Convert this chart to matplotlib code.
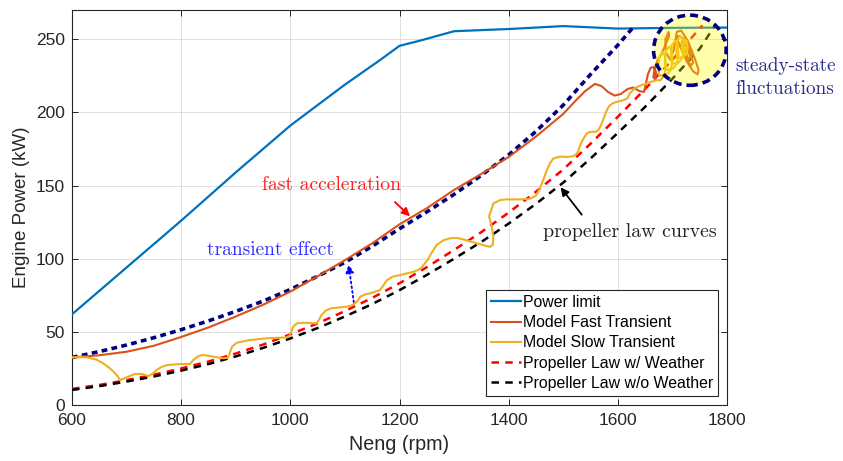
import matplotlib
matplotlib.use("Agg")
import matplotlib.pyplot as plt
from matplotlib.patches import Ellipse

plt.rcParams['font.family'] = ['Liberation Sans', 'DejaVu Sans']

# ---------------- data ----------------
rpm_limit = [600, 700, 800, 900, 1000, 1100, 1164, 1200, 1237, 1300, 1400, 1500, 1600, 1700, 1800]
pow_limit = [62, 94, 126, 159, 191, 219, 235.7, 245.5, 249, 255.5, 257, 259, 257.3, 257.8, 258]

rpm_fast = [600, 650, 700, 750, 800, 850, 900, 950, 1000, 1050, 1100, 1150, 1200, 1250, 1300,
            1350, 1400, 1450, 1500, 1520, 1540, 1558, 1570, 1582, 1594, 1605, 1618, 1628, 1640,
            1648, 1651, 1655, 1660, 1666, 1670, 1669, 1665, 1667, 1672, 1680, 1688, 1694, 1693,
            1687, 1688, 1696, 1702, 1706, 1708, 1716, 1728, 1740, 1748, 1746, 1738, 1726, 1713,
            1707, 1714, 1722, 1732, 1738, 1734, 1724, 1716, 1718, 1726, 1733, 1730, 1724, 1726]
pow_fast = [32.5, 34, 36.4, 40.5, 46.5, 53, 60.5, 68.5, 77.5, 88, 99, 110.5, 123.5, 134.5, 147,
            158, 169.5, 183.5, 199, 207, 214.5, 219.5, 218, 214, 211.5, 212.5, 216, 217, 214.5,
            214, 219, 226, 230.5, 231, 227.5, 223, 224, 229, 235, 240, 247, 252, 255,
            250, 241, 236, 242, 250, 255, 256, 249, 238, 229, 226, 228, 235, 246,
            252, 252, 250, 242, 234, 232, 238, 246, 249, 245, 238, 236, 241, 243]

rpm_slow = [600, 627, 645, 657, 668, 676, 684, 688, 694, 700, 715, 728, 740, 748, 755, 764, 774,
            798, 816, 822, 830, 838, 849, 859, 877, 886, 889, 893, 902, 926, 957, 993, 999, 1002,
            1005, 1012, 1024, 1048, 1053, 1057, 1065, 1073, 1103, 1112, 1118, 1124, 1128, 1137,
            1146, 1164, 1171, 1177, 1188, 1201, 1225, 1237, 1244, 1252, 1258, 1268, 1280, 1292,
            1305, 1317, 1330, 1342, 1356, 1366, 1371, 1372, 1369, 1364, 1366, 1372, 1384, 1396,
            1408, 1424, 1439, 1450, 1457, 1463, 1470, 1476, 1482, 1494, 1506, 1518, 1525, 1528,
            1531, 1537, 1543, 1549, 1555, 1560, 1564, 1569, 1574, 1578, 1583, 1590, 1598, 1610,
            1617, 1622, 1628, 1635, 1645, 1653, 1662, 1671,
            1678, 1685, 1688, 1687, 1682, 1676, 1674, 1676,
            1690, 1697, 1700, 1699, 1694, 1688, 1686, 1688,
            1701, 1708, 1711, 1710, 1705, 1699, 1697, 1699,
            1711, 1718, 1721, 1720, 1715, 1709, 1707, 1709,
            1720, 1726, 1728, 1726, 1721, 1717, 1717, 1720, 1725, 1727, 1724, 1720, 1721, 1724]
pow_slow = [32.6, 32.6, 31, 28.5, 25.5, 22.8, 19.5, 17, 18, 18.9, 21.2, 21.2, 19.8, 21.5, 23.9,
            26, 27.3, 28, 28, 30.7, 33, 34.2, 33.8, 33, 31.9, 32.3, 35.5, 39.8, 42.6, 44.4, 45.6,
            46.2, 47.5, 50.5, 53.5, 55.8, 56.2, 55.8, 58.5, 61.5, 64.5, 66, 67.2, 68, 69.4, 71.5,
            74, 75.6, 76.3, 78.5, 82, 85.4, 87.8, 88.8, 91, 92.8, 95.6, 99.5, 103.5, 109.3, 112.5,
            113.9, 114.2, 113.2, 111.8, 110.5, 109, 108.1, 109.5, 115, 122, 129, 131, 137.8, 140,
            140.6, 140.5, 140.6, 141, 143, 148, 153.5, 160.5, 165.5, 168.5, 169.8, 169.6, 170,
            171.9, 174, 177.6, 182, 185.6, 186.6, 186.7, 186.8, 187.8, 191, 195.8, 200, 203.8, 206.2,
            207.2, 208.3, 209.5, 212.9, 215.5, 217.4, 218.8, 219.7, 221, 222,
            222, 225, 231, 238, 241, 238, 231, 225,
            226, 229, 235, 242, 245, 242, 235, 229,
            230, 233, 239, 246, 249, 246, 239, 233,
            234, 237, 242, 249, 252, 249, 242, 237,
            238, 240, 244, 249, 250, 247, 242, 239, 241, 245, 248, 246, 242, 243]

rpm_prop = [600, 650, 700, 750, 800, 850, 900, 950, 1000, 1050, 1100, 1150, 1200, 1250, 1300,
            1350, 1400, 1450, 1500, 1550, 1600, 1650, 1700, 1750, 1778]
pow_prop_wo = [10.3, 12.9, 16.0, 19.5, 23.5, 28.0, 33.2, 39.0, 45.5, 52.6, 60.5, 69.0, 78.5, 88.9, 100,
               111.5, 124, 137.5, 152, 168.5, 186, 203.8, 223, 243.5, 259.5]
rpm_prop_w = [600, 650, 700, 750, 800, 850, 900, 950, 1000, 1050, 1100, 1150, 1200, 1250, 1300,
              1350, 1400, 1450, 1500, 1550, 1600, 1650, 1700, 1755]
pow_prop_w = [11, 13.7, 17, 20.7, 25, 29.7, 35.2, 41.3, 48.3, 55.8, 64.2, 73.2, 83.2, 94.2, 106,
              118.2, 131.5, 145.8, 161, 178.6, 197, 216, 236, 259.5]

rpm_trans = [600, 650, 700, 750, 800, 850, 900, 950, 1000, 1050, 1100, 1150, 1200, 1250, 1300,
             1350, 1400, 1450, 1500, 1550, 1600, 1630]
pow_trans = [32.5, 36.5, 41, 46, 51.5, 57.5, 64, 71, 79, 88, 97.5, 108.5, 120.5, 132, 144,
             157, 171, 187, 205, 226, 246, 259]

xticks = [600, 800, 1000, 1200, 1400, 1600, 1800]
yticks = [0, 50, 100, 150, 200, 250]

# ---------------- figure ----------------
fig = plt.figure(figsize=(8.43, 4.61), dpi=100)
ax = fig.add_axes([72 / 843, 56 / 461, 655 / 843, 395 / 461])

c_blue = '#0072BD'
c_orange = '#D95319'
c_yellow = '#EDB120'
navy = '#000080'

ax.plot(rpm_limit, pow_limit, color=c_blue, lw=1.6, label='Power limit', zorder=3)
ax.plot(rpm_fast, pow_fast, color=c_orange, lw=1.5, label='Model Fast Transient', zorder=4)
ax.plot(rpm_slow, pow_slow, color=c_yellow, lw=1.5, label='Model Slow Transient', zorder=4)
ax.plot(rpm_prop_w, pow_prop_w, color='#FF0000', lw=1.8, dashes=(3, 2.5),
        label='Propeller Law w/ Weather', zorder=3)
ax.plot(rpm_prop, pow_prop_wo, color='black', lw=1.8, dashes=(3, 2.5),
        label='Propeller Law w/o Weather', zorder=3)
ax.plot(rpm_trans, pow_trans, color=navy, lw=2.6, dashes=(1.6, 1.2), zorder=3)

# steady-state highlight
ell = Ellipse((1732, 242.5), width=133, height=48, facecolor=(1, 1, 0, 0.33),
              edgecolor=navy, lw=2.6, linestyle=(0, (2.2, 1.4)), zorder=5, clip_on=False)
ax.add_patch(ell)

ax.set_xlim(600, 1800)
ax.set_ylim(0, 270)
ax.set_xticks(xticks)
ax.set_yticks(yticks)
ax.grid(True, color='#dedede', lw=0.7)
ax.set_axisbelow(True)
ax.tick_params(direction='in', top=True, right=True, length=4, width=0.7,
               labelsize=12.5, colors='#262626')
ax.tick_params(axis='x', pad=6)
ax.tick_params(axis='y', pad=5)
for s in ax.spines.values():
    s.set_color('#262626')
    s.set_linewidth(0.8)

ax.set_xlabel('Neng (rpm)', fontsize=14.2, color='#262626', labelpad=5)
ax.set_ylabel('Engine Power (kW)', fontsize=13.5, color='#262626', labelpad=4)

leg = ax.legend(loc='lower right', bbox_to_anchor=(0.987, 0.024), fontsize=11.4,
                frameon=True, fancybox=False, edgecolor='#262626', framealpha=1,
                handlelength=1.9, handletextpad=0.15, borderpad=0.3, labelspacing=0.33,
                borderaxespad=0.0)
leg.get_frame().set_linewidth(0.8)

serif = 'cmr10'
ax.text(1075, 150.3, 'fast acceleration', color='#FF2020', fontsize=14.2, family=serif,
        ha='center', va='center')
ax.annotate('', xy=(1223, 127.7), xytext=(1188, 140),
            arrowprops=dict(arrowstyle='-|>', color='#FF0000', lw=1.3, mutation_scale=12))
ax.text(963, 105.9, 'transient effect', color='#3030FF', fontsize=14, family=serif,
        ha='center', va='center')
ax.annotate('', xy=(1106, 98), xytext=(1117, 68.3),
            arrowprops=dict(arrowstyle='-|>', color='#0000FF', lw=1.3, linestyle=':',
                            mutation_scale=12))
ax.text(1622, 118, 'propeller law curves', color='#222222', fontsize=14.3, family=serif,
        ha='center', va='center')
ax.annotate('', xy=(1492, 150.3), xytext=(1537, 128.6),
            arrowprops=dict(arrowstyle='-|>', color='black', lw=1.3, mutation_scale=12))
fig.text(735 / 843, 1 - 66 / 461, 'steady-state', color='#2a2a8c', fontsize=13.8,
         family=serif, ha='left', va='center')
fig.text(735 / 843, 1 - 89 / 461, 'fluctuations', color='#2a2a8c', fontsize=13.8,
         family=serif, ha='left', va='center')

fig.savefig('out.png', dpi=100)
